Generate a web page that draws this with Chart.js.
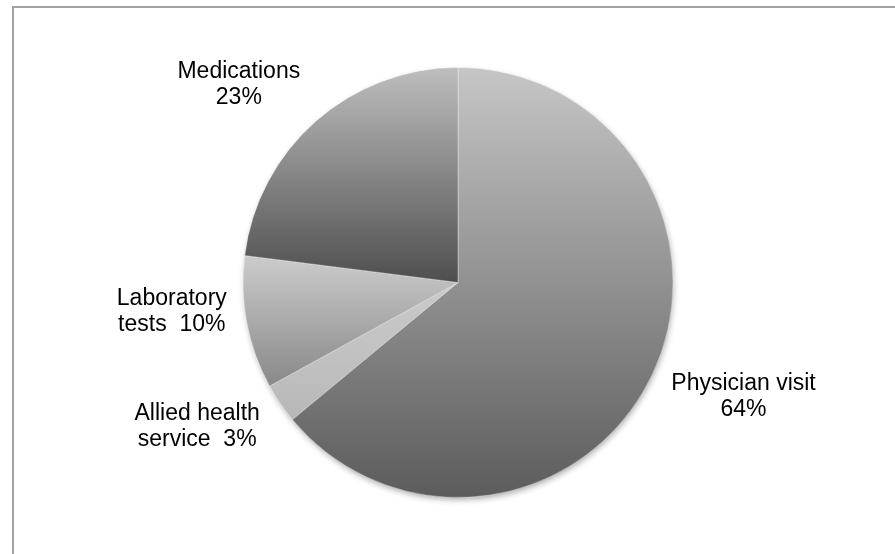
<!DOCTYPE html>
<html>
<head>
<meta charset="utf-8">
<script src="https://cdn.jsdelivr.net/npm/chart.js@4"></script>
<style>
	body { margin: 0; background: #fff; overflow: hidden; }
	#wrap { position: relative; width: 895px; height: 554px; }
	#frame { position: absolute; left: 12px; top: 6px; width: 900px; height: 600px; border: 2px solid #a2a2a2; pointer-events: none; }
	canvas { position: absolute; left: 0; top: 0; }
</style>
</head>
<body>
<div id="wrap">
	<div id="frame"></div>
	<canvas id="CostChart" width="895" height="554"></canvas>
</div>
<script>
// data
const categories = ["Physician visit", "Allied health service", "Laboratory tests", "Medications"];
const shares = [64, 3, 10, 23];
const labelLines = [["Physician visit", "64%"], ["Allied health", "service  3%"], ["Laboratory", "tests  10%"], ["Medications", "23%"]];

// look
const gradTop = ["#c6c6c6", "#cbcbcb", "#cccccc", "#bebebe"];
const gradBottom = ["#5c5c5c", "#b8b8b8", "#888888", "#4e4e4e"];
const labelNudge = [[91, 23], [-83, 23], [-75, -11], [-77, -37]];

function sliceGradient(context) {
	const chart = context.chart;
	const area = chart.chartArea;
	if (!area) return gradTop[context.dataIndex];
	const i = context.dataIndex;
	const cx = (area.left + area.right) / 2, cy = (area.top + area.bottom) / 2;
	const r = Math.min(area.right - area.left, area.bottom - area.top) / 2;
	const total = shares.reduce(function(a, b){ return a + b; }, 0);
	let before = 0;
	for (let k = 0; k < i; k++) before += shares[k];
	const a0 = -Math.PI / 2 + 2 * Math.PI * before / total;
	const a1 = a0 + 2 * Math.PI * shares[i] / total;
	const ys = [cy, cy + r * Math.sin(a0), cy + r * Math.sin(a1)];
	[Math.PI / 2, -Math.PI / 2].forEach(function(t){
		for (let k = -1; k <= 2; k++) {
			const a = t + 2 * Math.PI * k;
			if (a >= a0 && a <= a1) ys.push(cy + r * Math.sin(t));
		}
	});
	const g = chart.ctx.createLinearGradient(0, Math.min.apply(null, ys), 0, Math.max.apply(null, ys));
	g.addColorStop(0, gradTop[i]);
	g.addColorStop(1, gradBottom[i]);
	return g;
}

const pieShadow = {
	id: "pieShadow",
	beforeDatasetsDraw: function(chart) {
		const arc = chart.getDatasetMeta(0).data[0];
		if (!arc) return;
		const p = arc.getProps(["x", "y", "outerRadius"], true);
		const ctx = chart.ctx;
		ctx.save();
		ctx.shadowColor = "rgba(0,0,0,0.35)";
		ctx.shadowBlur = 6;
		ctx.shadowOffsetX = 1;
		ctx.shadowOffsetY = 3;
		ctx.fillStyle = "#777";
		ctx.beginPath();
		ctx.arc(p.x, p.y, p.outerRadius - 1, 0, Math.PI * 2);
		ctx.fill();
		ctx.restore();
	}
};

const sliceLabels = {
	id: "sliceLabels",
	afterDatasetsDraw: function(chart) {
		const ctx = chart.ctx;
		ctx.save();
		ctx.font = "23px 'Liberation Sans', Arial, sans-serif";
		ctx.fillStyle = "#000";
		ctx.textAlign = "center";
		ctx.textBaseline = "middle";
		chart.getDatasetMeta(0).data.forEach(function(arc, i){
			const p = arc.getProps(["x", "y", "startAngle", "endAngle", "outerRadius"], true);
			const mid = (p.startAngle + p.endAngle) / 2;
			const x = p.x + p.outerRadius * Math.cos(mid) + labelNudge[i][0];
			const y = p.y + p.outerRadius * Math.sin(mid) + labelNudge[i][1];
			const lines = labelLines[i];
			const lh = 26;
			lines.forEach(function(line, j){
				ctx.fillText(line, x, y + (j - (lines.length - 1) / 2) * lh);
			});
		});
		ctx.restore();
	}
};

new Chart(document.getElementById("CostChart").getContext("2d"), {
	type: "pie",
	data: {
		labels: categories,
		datasets: [{
			data: shares,
			backgroundColor: sliceGradient,
			borderColor: "rgba(255,255,255,0.35)",
			borderWidth: 1
		}]
	},
	options: {
		responsive: false,
		animation: false,
		layout: { padding: { top: 67, bottom: 56, left: 21, right: 0 } },
		plugins: {
			legend: { display: false },
			tooltip: { enabled: false }
		}
	},
	plugins: [pieShadow, sliceLabels]
});
</script>
</body>
</html>
